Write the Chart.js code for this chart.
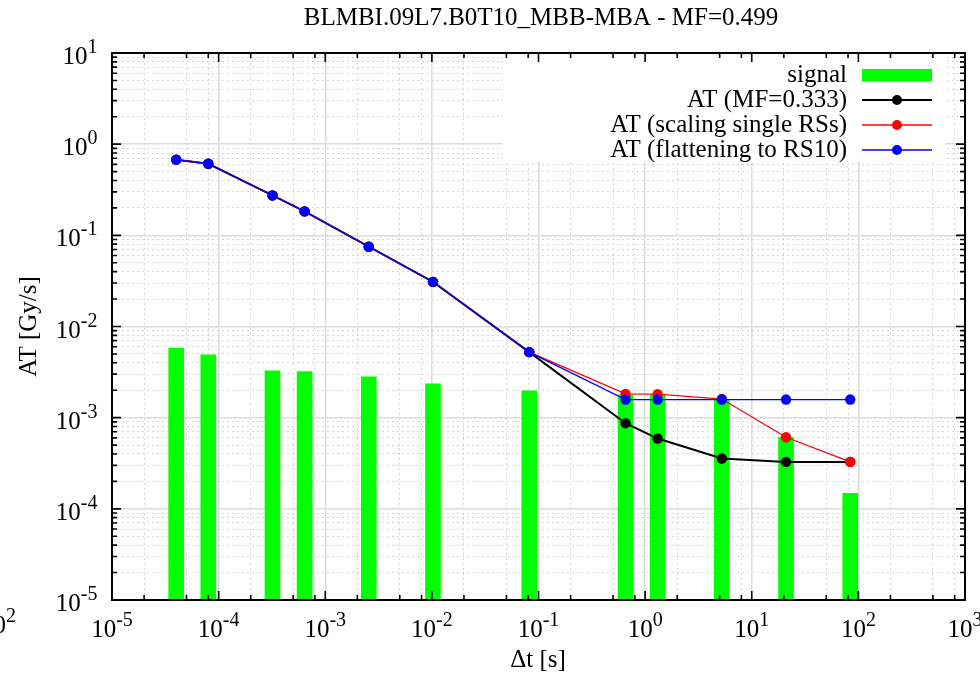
<!DOCTYPE html>
<html>
<head>
<meta charset="utf-8">
<script src="https://cdn.jsdelivr.net/npm/chart.js@4"></script>
<style>
  html, body { margin: 0; padding: 0; background: #fff; }
  #wrap { position: relative; width: 980px; height: 676px; }
</style>
</head>
<body>
<div id="wrap"><canvas id="chart"></canvas></div>
<script>
// running sums RS01..RS12 integration times [s]
const rsTimes = [40e-6, 80e-6, 320e-6, 640e-6, 2.56e-3, 10.24e-3, 81.92e-3, 0.65536, 1.31072, 5.24288, 20.97152, 83.88608];
const signal = [5.8e-3, 4.9e-3, 3.27e-3, 3.2e-3, 2.8e-3, 2.35e-3, 1.97e-3, 1.78e-3, 1.78e-3, 1.57e-3, 6.1e-4, 1.48e-4];
const atMF = [0.676, 0.61, 0.274, 0.183, 0.075, 0.0309, 5.24e-3, 8.7e-4, 5.9e-4, 3.56e-4, 3.27e-4, 3.27e-4];
const atScaling = [0.676, 0.61, 0.274, 0.183, 0.075, 0.0309, 5.24e-3, 1.82e-3, 1.81e-3, 1.6e-3, 6.1e-4, 3.27e-4];
const atFlat = [0.676, 0.61, 0.274, 0.183, 0.075, 0.0309, 5.24e-3, 1.58e-3, 1.58e-3, 1.58e-3, 1.58e-3, 1.58e-3];

// axis decades and minor tick multipliers
const xDecades = [-5, -4, -3, -2, -1, 0, 1, 2, 3];
const yDecades = [-5, -4, -3, -2, -1, 0, 1];
const xMinor = [2, 5, 8];
const yMinor = [2, 3, 4, 5, 6, 7, 8, 9];

const title = 'BLMBI.09L7.B0T10_MBB-MBA - MF=0.499';
const xTitle = 'Δt [s]';
const yTitle = 'AT [Gy/s]';

const SERIF = '"Liberation Serif", "Times New Roman", serif';

const pts = vals => rsTimes.map((t, i) => ({ x: t, y: vals[i] }));

function logTicks(decades, minors) {
    const out = [];
    decades.forEach((e, i) => {
        out.push({ value: Math.pow(10, e), major: true, exp: e });
        if (i < decades.length - 1) {
            minors.forEach(m => out.push({ value: m * Math.pow(10, e), major: false }));
        }
    });
    return out;
}

const lines = [
    { label: 'AT (MF=0.333)', data: atMF, color: '#000000', width: 2 },
    { label: 'AT (scaling single RSs)', data: atScaling, color: '#ff0000', width: 1.3 },
    { label: 'AT (flattening to RS10)', data: atFlat, color: '#0000ff', width: 1.3 }
];

function drawPow(ctx, exp, x, y, align) {
    ctx.font = '25px ' + SERIF;
    const wb = ctx.measureText('10').width;
    ctx.font = '20px ' + SERIF;
    const we = ctx.measureText(exp).width;
    let x0 = x;
    if (align === 'center') x0 = x - (wb + we) / 2;
    if (align === 'right') x0 = x - wb - we;
    ctx.textAlign = 'left';
    ctx.textBaseline = 'alphabetic';
    ctx.font = '25px ' + SERIF;
    ctx.fillText('10', x0, y);
    ctx.font = '20px ' + SERIF;
    ctx.fillText(exp, x0 + wb, y - 11);
}

const gnuplotLook = {
    id: 'gnuplotLook',
    beforeDatasetsDraw(chart) {
        // opaque key box
        const ctx = chart.ctx;
        ctx.save();
        ctx.fillStyle = '#ffffff';
        ctx.fillRect(503, 55, 442, 107);
        ctx.restore();
    },
    afterDatasetsDraw(chart) {
        const ctx = chart.ctx;
        const { left, right, top, bottom } = chart.chartArea;
        const xs = chart.scales.x, ys = chart.scales.y;
        ctx.save();

        // tick marks on all four sides, inward
        ctx.strokeStyle = '#000';
        ctx.lineWidth = 1.6;
        ctx.beginPath();
        xs.ticks.forEach(t => {
            const px = xs.getPixelForValue(t.value);
            const len = t.major ? 9 : 5;
            ctx.moveTo(px, bottom); ctx.lineTo(px, bottom - len);
            ctx.moveTo(px, top); ctx.lineTo(px, top + len);
        });
        ys.ticks.forEach(t => {
            const py = ys.getPixelForValue(t.value);
            const len = t.major ? 9 : 5;
            ctx.moveTo(left, py); ctx.lineTo(left + len, py);
            ctx.moveTo(right, py); ctx.lineTo(right - len, py);
        });
        ctx.stroke();

        // frame
        ctx.lineWidth = 2;
        ctx.strokeRect(left, top, right - left, bottom - top);

        // tick labels
        ctx.fillStyle = '#000';
        xs.ticks.filter(t => t.major).forEach(t => {
            drawPow(ctx, String(t.exp), xs.getPixelForValue(t.value), 636.5, 'center');
        });
        ys.ticks.filter(t => t.major).forEach(t => {
            drawPow(ctx, String(t.exp), 97.5, ys.getPixelForValue(t.value) + 11, 'right');
        });
        // clipped label at the left edge of the picture
        drawPow(ctx, '2', -19, 633, 'left');

        // titles
        ctx.font = '25px ' + SERIF;
        ctx.textAlign = 'center';
        ctx.textBaseline = 'alphabetic';
        ctx.fillText(title, 541, 25);
        ctx.fillText(xTitle, 538, 667);
        ctx.save();
        ctx.translate(36, (top + bottom) / 2);
        ctx.rotate(-Math.PI / 2);
        ctx.fillText(yTitle, 0, 0);
        ctx.restore();

        // key
        const kx = 847, s0 = 862, s1 = 932, mx = 897;
        ctx.textAlign = 'right';
        ctx.fillText('signal', kx, 81.5);
        ctx.fillStyle = '#00ff00';
        ctx.fillRect(s0, 69, s1 - s0, 12.5);
        lines.forEach((l, i) => {
            const cy = 100 + i * 25;
            ctx.fillStyle = '#000';
            ctx.fillText(l.label, kx, cy + 6.5);
            ctx.strokeStyle = l.color;
            ctx.lineWidth = l.width;
            ctx.beginPath();
            ctx.moveTo(s0, cy); ctx.lineTo(s1, cy);
            ctx.stroke();
            ctx.fillStyle = l.color;
            ctx.beginPath();
            ctx.arc(mx, cy, 5, 0, Math.PI * 2);
            ctx.fill();
        });
        ctx.restore();
    }
};

const gridOpts = {
    drawTicks: false,
    color: c => (c.tick && c.tick.major) ? '#dcdcdc' : '#d6d6d6',
    lineWidth: c => (c.tick && c.tick.major) ? 1.5 : 1
};
const borderOpts = {
    display: false,
    dash: c => (c.tick && c.tick.major) ? [] : [2, 3]
};

new Chart(document.getElementById('chart'), {
    type: 'bar',
    data: {
        datasets: [
            {
                label: 'signal', data: pts(signal), backgroundColor: '#00ff00',
                barThickness: 15, base: 1e-5, order: 4
            },
            ...lines.map((l, i) => ({
                type: 'line', label: l.label, data: pts(l.data),
                borderColor: l.color, borderWidth: l.width, tension: 0,
                pointRadius: 5.2, pointBorderWidth: 0, pointBackgroundColor: l.color,
                order: 3 - i
            }))
        ]
    },
    options: {
        responsive: true,
        maintainAspectRatio: false,
        animation: false,
        devicePixelRatio: 1,
        layout: { padding: { left: 112, right: 15, top: 53, bottom: 76 } },
        plugins: { legend: { display: false }, tooltip: { enabled: false }, title: { display: false } },
        scales: {
            x: {
                type: 'logarithmic', min: 1e-5, max: 1e3, offset: false,
                afterBuildTicks: s => { s.ticks = logTicks(xDecades, xMinor); },
                ticks: { display: false, autoSkip: false },
                grid: { ...gridOpts, offset: false },
                border: borderOpts
            },
            y: {
                type: 'logarithmic', min: 1e-5, max: 10,
                afterBuildTicks: s => { s.ticks = logTicks(yDecades, yMinor); },
                ticks: { display: false, autoSkip: false },
                grid: gridOpts,
                border: borderOpts
            }
        }
    },
    plugins: [gnuplotLook]
});
</script>
</body>
</html>
